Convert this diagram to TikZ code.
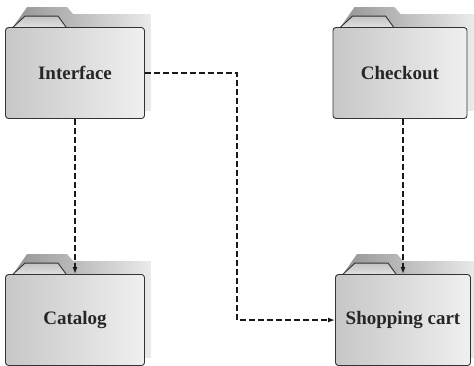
\documentclass[tikz,border=0pt]{standalone}
\usepackage{fontspec}
\setmainfont{Liberation Serif}
\usetikzlibrary{calc,arrows.meta,backgrounds}
\tikzset{
  folderbody/.style={draw=black!80, line width=0.9pt, rounded corners=3pt,
    left color=black!22, right color=black!6,
    minimum width=139pt, minimum height=91pt, inner sep=0pt,
    font=\fontsize{19}{22}\selectfont\bfseries, text=black!85},
  folderback/.style={left color=black!42, right color=black!8},
  foldertab/.style={draw=black!80, line width=0.9pt, line join=round,
    top color=black!24, bottom color=black!12},
  dep/.style={draw=black!90, line width=1.4pt, dash pattern=on 6pt off 3pt,
    -{Latex[length=7pt,width=5pt]}},
}
\newcommand\folderdeco[1]{%
  \path (#1.north west) coordinate (#1nw) (#1.north east) coordinate (#1ne)
        (#1.south east) coordinate (#1se);
  \begin{scope}[on background layer]
    \shade[folderback] ($(#1nw)+(8,0)$) -- ($(#1nw)+(22,-20)$) -- ($(#1nw)+(62,-20)$)
      -- ($(#1nw)+(68,-13)$) -- ($(#1ne)+(6,-13)$) -- ($(#1se)+(6,-8)$)
      -- ($(#1se)+(0,-8)$) -- ($(#1ne)+(0,0)$) -- cycle;
    \draw[foldertab] ($(#1nw)+(8,0)$) -- ($(#1nw)+(20,-11)$) -- ($(#1nw)+(53,-11)$)
      -- ($(#1nw)+(61,0)$);
  \end{scope}}
\begin{document}
\begin{tikzpicture}[x=1pt,y=-1pt]
  \useasboundingbox (0,0) rectangle (474,365);
  \node[folderbody] (int) at (75,73) {Interface};
  \node[folderbody, minimum width=134pt] (chk) at (400,73) {Checkout};
  \node[folderbody] (cat) at (75,320) {Catalog};
  \node[folderbody, minimum width=135pt] (cart) at (403,320) {Shopping cart};
  \folderdeco{int}
  \folderdeco{chk}
  \folderdeco{cat}
  \folderdeco{cart}
  \coordinate (turn) at (237,73);
  \draw[dep] (int.south) -- (cat.north);
  \draw[dep] (int.east) -- (turn) |- (cart.west);
  \draw[dep] (cart.north |- chk.south) -- (cart.north);
\end{tikzpicture}
\end{document}
